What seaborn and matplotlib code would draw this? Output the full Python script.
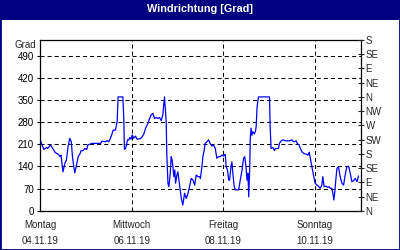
import matplotlib
matplotlib.use("Agg")
import matplotlib.pyplot as plt
import seaborn as sns
import pandas as pd
from matplotlib.patches import Rectangle
from matplotlib.ticker import MultipleLocator

# ---- data (hours since Montag 04.11.19 00:00, wind direction in degrees) ----
hours = [0, 2, 3.5, 4, 5.5, 7, 8, 9.5, 10.5, 11, 12, 13, 13.8, 14.7, 15.6, 16.4, 17.0, 17.7, 18.2,
         19, 20, 21, 21.5, 22.5, 23.5, 24.5, 25, 26, 27, 28,
         30.8, 31.7, 32.5, 34.3, 35.2, 36.0, 36.9, 37.8, 38.3, 39.5, 40.4, 40.9, 43.4, 43.9, 44.2,
         44.8, 45.3, 45.8, 46.5, 47.0, 47.7, 48.3, 49.1, 50.0, 50.9, 51.8, 52.6, 53.5, 54.4, 55.3,
         56.5, 57.4, 58.2, 59.1, 60.0, 60.9, 61.7, 62.6, 63.5, 64.3, 64.9, 65.2, 65.7, 66.1, 66.4,
         67.0, 67.5, 68.2, 68.7, 69.2, 69.6, 70.1, 70.6, 71.0, 71.7, 72.2, 73.1, 74.0, 74.8, 75.7,
         76.6, 77.5, 78.3, 79.2, 80.1, 81.0, 81.8, 82.7, 83.6, 84.0, 84.8, 85.3, 86.0, 86.5, 87.4,
         88.3, 89.1, 90.0, 90.9, 91.8, 92.6, 93.5, 94.4, 95.3, 96.1, 97.0, 97.5, 98.2, 98.8, 99.3,
         100.0, 100.5, 101.0, 101.7, 102.4, 104.0, 104.9, 105.8, 106.6, 107.2, 107.9, 108.4, 108.9,
         109.3, 109.8, 110.1, 110.5, 111.0, 111.5, 112.2, 112.8, 113.2, 113.7, 114.4, 120.2, 120.5,
         121.0, 121.9, 122.8, 123.3, 124.9, 125.4, 126.3, 127.2, 128.9, 130.7, 131.9, 132.9, 134.2,
         134.7, 135.6, 136.4, 137.1, 138.2, 139.4, 140.3, 141.0, 141.6, 142.3, 143.2, 144.1, 145.0,
         145.8, 146.7, 147.6, 148.1, 148.8, 149.7, 150.7, 151.4, 152.1, 152.8, 153.4, 153.9, 154.4,
         154.9, 155.5, 156.3, 157.2, 158.1, 159.0, 159.8, 160.7, 161.6, 162.5, 163.3, 164.2, 165.1,
         166.0, 166.8]
degrees = [226, 194, 200, 197, 208, 194, 184, 179, 171, 176, 123, 149, 160, 203, 229, 218, 171, 139, 120,
           141, 171, 181, 190, 190, 197, 194, 208, 210, 213, 213,
           213, 213, 220, 218, 222, 218, 229, 245, 255, 255, 282, 360, 360, 287, 194,
           197, 208, 224, 224, 232, 226, 240, 229, 236, 226, 227, 228, 234, 243, 261,
           276, 292, 303, 308, 292, 295, 292, 295, 285, 303, 340, 360, 319, 282, 181,
           87, 76, 118, 171, 160, 139, 108, 129, 87, 113, 123, 81, 39, 18, 55,
           39, 55, 76, 102, 97, 81, 113, 108, 108, 102, 139, 171, 192, 213, 218,
           224, 213, 205, 208, 197, 166, 171, 171, 176, 173, 179, 139, 129, 97, 97,
           139, 155, 118, 76, 66, 66, 97, 129, 166, 171, 139, 97, 118,
           44, 129, 224, 261, 239, 250, 243, 250, 266, 329, 360, 360, 271,
           197, 200, 190, 197, 197, 213, 221, 224, 221, 221, 224, 218, 221,
           213, 208, 197, 187, 181, 179, 176, 185, 165, 140, 113, 87, 81,
           78, 71, 81, 108, 76, 78, 74, 76, 71, 71, 55, 34, 60,
           97, 134, 139, 108, 87, 81, 113, 139, 141, 118, 92, 95, 102,
           92, 110]

left_ticks = [0, 70, 140, 210, 280, 350, 420, 490]
right_ticks = [0, 45, 90, 135, 180, 225, 270, 315, 360, 405, 450, 495, 540]
right_labels = ["N", "NE", "E", "SE", "S", "SW", "W", "NW", "N", "NE", "E", "SE", "S"]
x_major = [0, 48, 96, 144]
x_labels = ["Montag\n04.11.19", "Mittwoch\n06.11.19", "Freitag\n08.11.19", "Sonntag\n10.11.19"]
title = "Windrichtung [Grad]"
unit = "Grad"

df = pd.DataFrame({"h": hours, "deg": degrees})

sns.set_style("white")
plt.rcParams["font.family"] = ["Liberation Sans", "DejaVu Sans"]
plt.rcParams["lines.scale_dashes"] = False

NAVY = "#000080"
FS = 7.0

fig = plt.figure(figsize=(4, 2.5), dpi=100)
fig.patch.set_facecolor("white")
ax = fig.add_axes([0.1, 0.157, 0.802, 0.683])
ax.set_facecolor("white")

sns.lineplot(data=df, x="h", y="deg", ax=ax, color="#0000FF", linewidth=0.9)

ax.set_xlim(0, 168)
ax.set_ylim(0, 540)
ax.set_xlabel("")
ax.set_ylabel("")
ax.set_yticks(left_ticks)
ax.set_yticklabels([str(v) for v in left_ticks], fontsize=FS)
ax.set_xticks(x_major)
ax.set_xticklabels(x_labels, fontsize=FS, linespacing=1.8)
ax.xaxis.set_minor_locator(MultipleLocator(24))
ax.tick_params(axis="y", direction="out", length=2.5, width=0.8, pad=2, colors="black")
ax.tick_params(axis="x", which="both", direction="out", length=2.5, width=0.8, pad=4)

dash = (0, (2.9, 2.2))
for v in left_ticks[1:]:
    ax.axhline(v, color="black", linewidth=0.75, linestyle=dash, zorder=0)
for v in x_major[1:]:
    ax.axvline(v, color="black", linewidth=0.75, linestyle=dash, zorder=0)

for s in ax.spines.values():
    s.set_visible(True)
    s.set_color("black")
    s.set_linewidth(0.9)

ax2 = ax.twinx()
ax2.set_ylim(0, 540)
ax2.set_yticks(right_ticks)
ax2.set_yticklabels(right_labels, fontsize=FS)
ax2.tick_params(axis="y", direction="inout", length=4, width=0.8, pad=1.5)
for s in ax2.spines.values():
    s.set_visible(False)

fig.text(0.09, 0.82, unit, ha="right", va="center", fontsize=FS)

# title bar and frame
fig.patches.append(Rectangle((0, 0.92), 1, 0.08, transform=fig.transFigure,
                             facecolor=NAVY, edgecolor="none", zorder=-1))
fig.patches.append(Rectangle((0, 0), 1, 1, transform=fig.transFigure,
                             facecolor="none", edgecolor=NAVY, linewidth=2.0, zorder=5))
fig.text(0.5, 0.964, title, ha="center", va="center", fontsize=7.8,
         fontweight="bold", color="white")

fig.savefig("out.png", dpi=100, facecolor="white")
